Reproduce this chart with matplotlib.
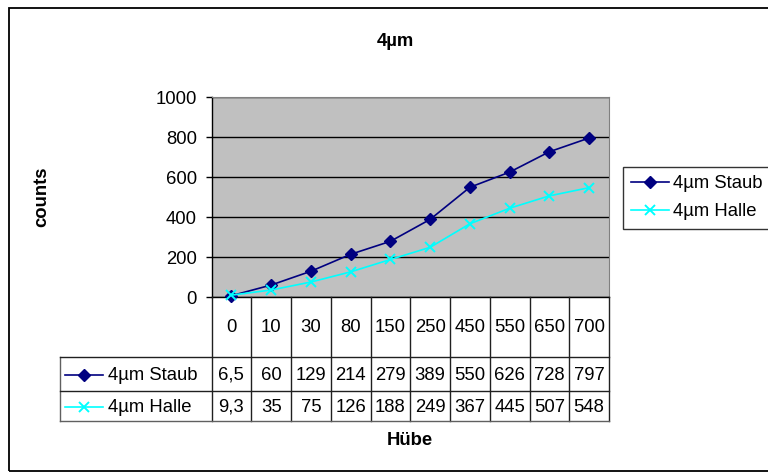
import matplotlib
matplotlib.use('Agg')
import matplotlib.pyplot as plt
from matplotlib.patches import Rectangle
from matplotlib.lines import Line2D

plt.rcParams['font.family'] = ['Liberation Sans', 'DejaVu Sans']

# data
huebe = ['0', '10', '30', '80', '150', '250', '450', '550', '650', '700']
staub = [6.5, 60, 129, 214, 279, 389, 550, 626, 728, 797]
halle = [9.3, 35, 75, 126, 188, 249, 367, 445, 507, 548]
series_names = ['4µm Staub', '4µm Halle']
title = '4µm'

W, H = 768, 473
FS = 13.3
NAVY = '#000080'
CYAN = '#00FFFF'

fig = plt.figure(figsize=(W / 100, H / 100), dpi=100)


def fx(px):
    return px / W


def fy(py):
    return 1 - py / H


# outer chart border (right edge runs off the picture)
fig.patches.append(Rectangle((fx(9), fy(471)), fx(780 - 9), fy(8) - fy(471),
                             transform=fig.transFigure, fill=False,
                             edgecolor='black', lw=1.3))

# plot area
L, R, T, B = 211.5, 609, 97.5, 297
ax = fig.add_axes([fx(L), fy(B), fx(R - L), fy(T) - fy(B)])
ax.set_facecolor('#C0C0C0')
x = list(range(len(huebe)))
styles = [dict(color=NAVY, marker='D', ms=6.3, mec=NAVY, mfc=NAVY),
          dict(color=CYAN, marker='x', ms=7.5, mew=1.4)]
for vals, name, st in zip([staub, halle], series_names, styles):
    ax.plot(x, vals, lw=1.2, label=name, clip_on=False, zorder=3, **st)

ax.set_xlim(-0.5, len(huebe) - 0.5)
ax.set_ylim(0, 1000)
ax.set_yticks(range(0, 1001, 200))
ax.set_xticks([])
ax.yaxis.grid(True, color='black', lw=1)
ax.set_axisbelow(True)
ax.tick_params(axis='y', length=4.5, width=1, pad=6, labelsize=FS)
for s in ['top', 'right']:
    ax.spines[s].set_color('#808080')
for s in ['left', 'bottom']:
    ax.spines[s].set_color('black')
    ax.spines[s].set_linewidth(1)

fig.text(fx(395), fy(41), title, ha='center', va='center', fontsize=FS, fontweight='bold')
fig.text(fx(42), fy(197), 'counts', ha='center', va='center', rotation=90,
         fontsize=FS, fontweight='bold')
fig.text(fx((L + R) / 2), fy(440), 'Hübe', ha='center', va='center',
         fontsize=FS, fontweight='bold')

# legend at the right, its frame runs off the picture like the reference
leg = ax.legend(loc='upper left', mode='expand',
                bbox_to_anchor=(fx(623), fy(229), fx(790 - 623), fy(167) - fy(229)),
                bbox_transform=fig.transFigure, frameon=True, fancybox=False,
                fontsize=FS, handlelength=2.05, handletextpad=0.2,
                borderpad=0.45, labelspacing=0.6, borderaxespad=0)
leg.get_frame().set_edgecolor('black')
leg.get_frame().set_linewidth(1)

# data table under the plot
TL, TB = 60, 421
r1, r2 = 357, 391
colw = (R - L) / len(huebe)
tax = fig.add_axes([fx(TL), fy(TB), fx(R - TL), fy(B) - fy(TB)])
tax.set_xlim(TL, R)
tax.set_ylim(TB, B)
tax.axis('off')
lk = dict(color='#202020', lw=1, clip_on=False)
tax.plot([L, L], [B, TB], **lk)
tax.plot([TL, TL], [r1, TB], color='#606060', lw=1, clip_on=False)
for i in range(1, len(huebe) + 1):
    tax.plot([L + i * colw] * 2, [B, TB], **lk)
for yy in [r1, r2]:
    tax.plot([TL, R], [yy, yy], **lk)
tax.plot([TL, R], [TB, TB], color='#606060', lw=1, clip_on=False)

for i, lab in enumerate(huebe):
    tax.text(L + (i + 0.5) * colw, (B + r1) / 2, lab, ha='center', va='center', fontsize=FS)

rows = [(r1, r2), (r2, TB)]
for vals, name, st, (ya, yb) in zip([staub, halle], series_names, styles, rows):
    yc = (ya + yb) / 2 + 1
    tax.add_line(Line2D([65, 103], [yc, yc], color=st['color'], lw=1.2, clip_on=False))
    mk = {k: v for k, v in st.items() if k != 'color'}
    tax.plot([84], [yc], color=st['color'], clip_on=False, **mk)
    tax.text(108, yc, name, ha='left', va='center', fontsize=FS)
    for i, v in enumerate(vals):
        tax.text(L + (i + 0.5) * colw, yc, f'{v:g}'.replace('.', ','),
                 ha='center', va='center', fontsize=FS)

fig.savefig('out.png', dpi=100)
